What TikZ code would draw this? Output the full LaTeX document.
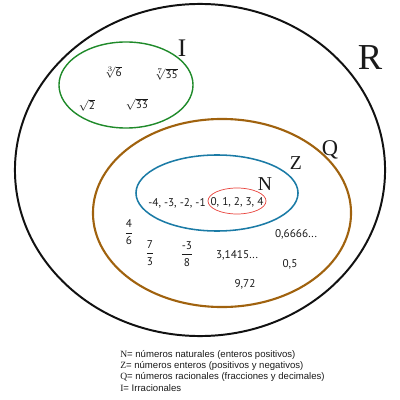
\documentclass[tikz,border=0pt]{standalone}
\usepackage{fontspec}
\setmainfont{Liberation Serif}
\setsansfont{PT Sans}
\newfontfamily\legendfont{Liberation Sans}
\usetikzlibrary{shapes.geometric}
\definecolor{clrreal}{HTML}{111111}
\definecolor{clrirr}{HTML}{1F8A2A}
\definecolor{clrrat}{HTML}{A0620E}
\definecolor{clrint}{HTML}{1B7BA6}
\definecolor{clrnat}{HTML}{E8413A}
\definecolor{clrtext}{HTML}{1A1A1A}

\begin{document}
\begin{tikzpicture}[
    x=0.025cm, y=-0.025cm,
    every node/.style={text=clrtext},
    setbox/.style={ellipse, draw, inner sep=0pt},
    setname/.style={font=\rmfamily\fontsize{14}{14}\selectfont, inner sep=0pt},
    elem/.style={font=\sffamily\fontsize{8}{9}\selectfont, inner sep=0pt},
    legend/.style={font=\legendfont\fontsize{6.8}{7.5}\selectfont, anchor=west, inner sep=0pt},
]
\useasboundingbox (0,0) rectangle (400,400);
% sets
\node[setbox, draw=clrreal, line width=1.4pt, minimum width=9.25cm, minimum height=8.3cm] (s_r) at (200,170) {};
\node[setbox, draw=clrirr, line width=1pt, minimum width=3.35cm, minimum height=2.15cm] (s_i) at (126,85) {};
\node[setbox, draw=clrrat, line width=1.5pt, minimum width=6.45cm, minimum height=4.7cm] (s_q) at (222,213) {};
\node[setbox, draw=clrint, line width=1.1pt, minimum width=4.05cm, minimum height=1.9cm] (s_z) at (217,193) {};
\node[setbox, draw=clrnat, line width=0.5pt, minimum width=1.45cm, minimum height=0.65cm] (s_n) at (237,201) {};
% set names
\node[setname, font=\rmfamily\fontsize{26}{26}\selectfont] (l_r) at (370,58) {R};
\node[setname, font=\rmfamily\fontsize{18}{18}\selectfont] (l_i) at (182,48) {I};
\node[setname, font=\rmfamily\fontsize{16}{16}\selectfont] (l_q) at (330,150) {Q};
\node[setname] (l_z) at (296,163) {Z};
\node[setname] (l_n) at (265,184) {N};
% irrationals
\node[elem] (e_1) at (113,72) {$\sqrt[3]{\mathsf{6}}$};
\node[elem] (e_2) at (166,74) {$\sqrt[7]{\mathsf{35}}$};
\node[elem] (e_3) at (87,105) {$\sqrt{\mathsf{2}}$};
\node[elem] (e_4) at (137,104) {$\sqrt{\mathsf{33}}$};
% integers and naturals
\node[elem] (e_5) at (177,203) {-4, -3, -2, -1};
\node[elem] (e_6) at (237,202) {0, 1, 2, 3, 4};
% rationals
\node[elem] (e_7) at (129,232) {$\displaystyle\frac{\mathsf{4}}{\mathsf{6}}$};
\node[elem] (e_8) at (150,253) {$\displaystyle\frac{\mathsf{7}}{\mathsf{3}}$};
\node[elem] (e_9) at (187,254) {$\displaystyle\frac{\mathsf{\mbox{-}3}}{\mathsf{8}}$};
\node[elem] (e_10) at (237,255) {3,1415...};
\node[elem] (e_11) at (296,234) {0,6666...};
\node[elem] (e_12) at (290,264) {0,5};
\node[elem] (e_13) at (245,284) {9,72};
% legend
\node[legend] (k_1) at (120,355) {{\rmfamily N}= números naturales (enteros positivos)};
\node[legend] (k_2) at (120,366) {{\rmfamily Z}= números enteros (positivos y negativos)};
\node[legend] (k_3) at (120,377) {{\rmfamily Q}= números racionales (fracciones y decimales)};
\node[legend] (k_4) at (120,388) {{\rmfamily I}= Irracionales};
\end{tikzpicture}
\end{document}
